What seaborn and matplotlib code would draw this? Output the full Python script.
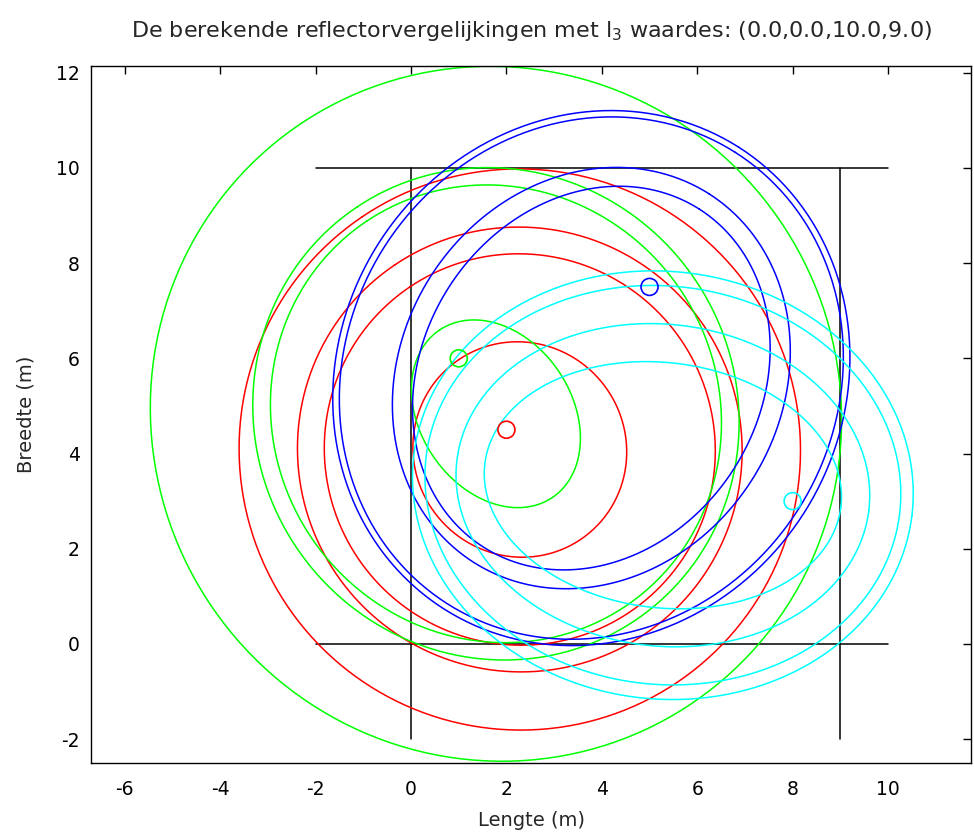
import numpy as np
import pandas as pd
import matplotlib
matplotlib.use("Agg")
import matplotlib.pyplot as plt
import seaborn as sns

# ---- data ----
receiver = (2.56, 3.67)                      # common second focus of all ellipses
beacon_names = ["rood", "groen", "blauw", "cyaan"]
beacon_x = [2.0, 1.0, 5.0, 8.0]
beacon_y = [4.5, 6.0, 7.5, 3.0]
beacon_colors = ["#ff0000", "#00ff00", "#0000ff", "#00ffff"]
# path lengths (sum of distances to both foci) of each drawn ellipse
len_red = [4.56, 8.24, 9.36, 11.8]
len_green = [4.24, 9.74, 10.46, 14.68]
len_blue = [8.42, 9.18, 11.24, 11.5]
len_cyan = [7.52, 8.70, 10.0, 10.52]
path_lengths = [len_red, len_green, len_blue, len_cyan]

# room walls (black lines)
wall_x = [[-2, 10], [-2, 10], [0, 0], [9, 9]]
wall_y = [[10, 10], [0, 0], [-2, 10], [-2, 10]]

xticks = [-6, -4, -2, 0, 2, 4, 6, 8, 10]
yticks = [-2, 0, 2, 4, 6, 8, 10, 12]

title = r"De berekende reflectorvergelijkingen met l$_3$ waardes: (0.0,0.0,10.0,9.0)"
xlabel = "Lengte (m)"
ylabel = "Breedte (m)"

# ---- build tables ----
rows = []
t = np.linspace(0, 2 * np.pi, 361)
uid = 0
for name, bx, by, lens in zip(beacon_names, beacon_x, beacon_y, path_lengths):
    f1 = np.array([bx, by]); f2 = np.array(receiver)
    cen = (f1 + f2) / 2
    d = f1 - f2
    c = np.hypot(*d) / 2
    th = np.arctan2(d[1], d[0])
    for L in lens:
        a = L / 2
        b = np.sqrt(a * a - c * c)
        ex = cen[0] + a * np.cos(t) * np.cos(th) - b * np.sin(t) * np.sin(th)
        ey = cen[1] + a * np.cos(t) * np.sin(th) + b * np.sin(t) * np.cos(th)
        for xi, yi in zip(ex, ey):
            rows.append((name, uid, xi, yi))
        uid += 1
ell = pd.DataFrame(rows, columns=["beacon", "unit", "x", "y"])

wrows = []
for i, (xs, ys) in enumerate(zip(wall_x, wall_y)):
    for xi, yi in zip(xs, ys):
        wrows.append((i, xi, yi))
walls = pd.DataFrame(wrows, columns=["unit", "x", "y"])

# ---- plot ----
sns.set_style("white")
plt.rcParams["font.family"] = ["DejaVu Sans"]
fig = plt.figure(figsize=(9.74, 8.39), dpi=100)
ax = fig.add_axes([91 / 974, 76 / 839, 880 / 974, 697 / 839])

sns.lineplot(data=walls, x="x", y="y", units="unit", estimator=None, sort=False,
             color="black", linewidth=1.1, ax=ax, legend=False)
sns.lineplot(data=ell, x="x", y="y", units="unit", hue="beacon", estimator=None,
             sort=False, palette=dict(zip(beacon_names, beacon_colors)),
             hue_order=beacon_names, linewidth=1.1, ax=ax, legend=False)
for bx, by, col in zip(beacon_x, beacon_y, beacon_colors):
    sns.scatterplot(x=[bx], y=[by], s=150, facecolors="none", edgecolor=col,
                    linewidth=1.2, ax=ax, legend=False, zorder=5)

ax.set_xlim(-6.71, 11.74)
ax.set_ylim(-2.5, 12.14)
ax.set_xticks(xticks)
ax.set_yticks(yticks)
ax.set_xticklabels([str(v) for v in xticks])
ax.set_yticklabels([str(v) for v in yticks])
ax.tick_params(direction="in", top=True, right=True, length=6, width=1,
               labelsize=13.5, colors="black")
ax.tick_params(axis="x", pad=12)
ax.tick_params(axis="y", pad=8)
for s in ax.spines.values():
    s.set_color("black"); s.set_linewidth(1.0); s.set_visible(True)
ax.set_xlabel(xlabel, fontsize=14, labelpad=9)
ax.set_ylabel(ylabel, fontsize=14, labelpad=15)
ax.set_title(title, fontsize=16, pad=21)

fig.savefig("out.png", dpi=100)
